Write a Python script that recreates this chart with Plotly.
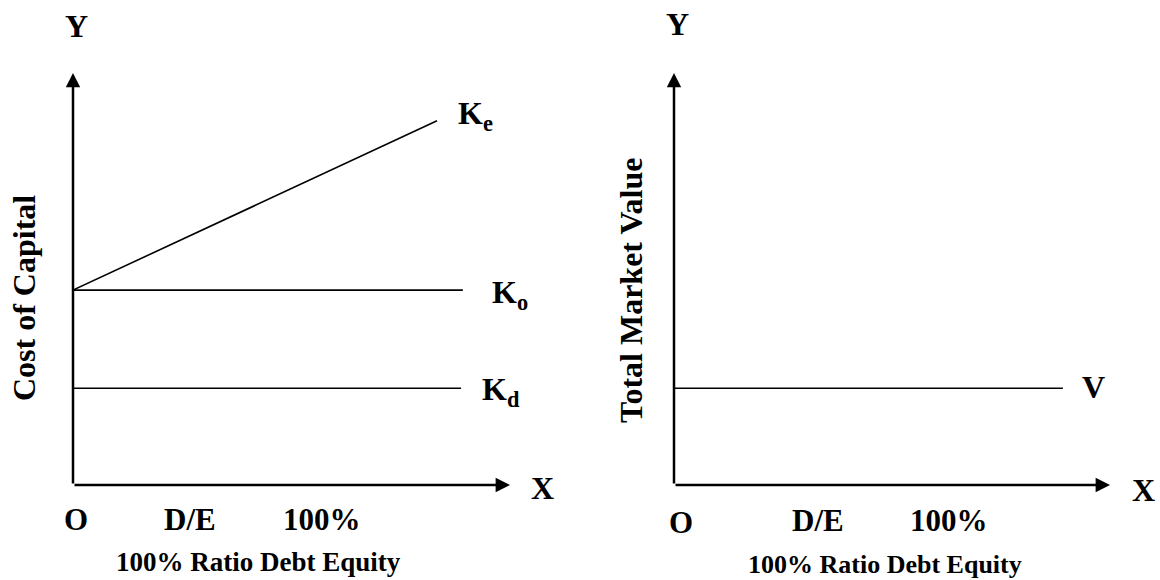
import plotly.graph_objects as go

# ---- data (arbitrary units on a 0-10 scale) ----
ke_x = [0, 8.33]
ke_y = [4.73, 8.84]
ko_x = [0, 8.92]
ko_y = [4.73, 4.73]
kd_x = [0, 8.88]
kd_y = [2.35, 2.35]
v_x = [0, 8.92]
v_y = [2.35, 2.35]
axis_max = 10

W, H = 1160, 580
FONT = "Liberation Serif"

fig = go.Figure()

line_style = dict(color="black", width=1.6)
for xs, ys in [(ke_x, ke_y), (ko_x, ko_y), (kd_x, kd_y)]:
    fig.add_trace(go.Scatter(x=xs, y=ys, mode="lines", line=line_style,
                             xaxis="x", yaxis="y", showlegend=False, hoverinfo="skip"))
fig.add_trace(go.Scatter(x=v_x, y=v_y, mode="lines", line=line_style,
                         xaxis="x2", yaxis="y2", showlegend=False, hoverinfo="skip"))

hidden = dict(range=[0, axis_max], showgrid=False, zeroline=False, showline=False,
              showticklabels=False, ticks="", fixedrange=True)
ydom = [(H - 485) / H, (H - 73) / H]
fig.update_layout(
    width=W, height=H,
    margin=dict(l=0, r=0, t=0, b=0),
    paper_bgcolor="white", plot_bgcolor="white",
    xaxis=dict(domain=[73 / W, 510 / W], **hidden),
    yaxis=dict(domain=ydom, **hidden),
    xaxis2=dict(domain=[674 / W, 1110 / W], anchor="y2", **hidden),
    yaxis2=dict(domain=ydom, anchor="x2", **hidden),
)

anns = []
# axis arrows
for xr, yr in [("x", "y"), ("x2", "y2")]:
    for tip in [(axis_max, 0), (0, axis_max)]:
        anns.append(dict(x=tip[0], y=tip[1], ax=0, ay=0, xref=xr, yref=yr,
                         axref=xr, ayref=yr, showarrow=True, arrowhead=2,
                         arrowsize=1.15, arrowwidth=2.5, arrowcolor="black",
                         standoff=0, startstandoff=0, text=""))


def txt(t, px, py, size, xanchor="center", angle=0):
    anns.append(dict(text="<b>" + t + "</b>", x=px / W, y=1 - py / H,
                     xref="paper", yref="paper", xanchor=xanchor, yanchor="middle",
                     showarrow=False, textangle=angle,
                     font=dict(family=FONT, size=size, color="black")))


# left panel
txt("Y", 76, 26, 32)
txt("X", 542, 488, 32)
txt("K<sub>e</sub>", 456, 116, 32, xanchor="left")
txt("K<sub>o</sub>", 490, 294, 32, xanchor="left")
txt("K<sub>d</sub>", 480, 391, 32, xanchor="left")
txt("O", 76, 519, 31)
txt("D/E", 190, 519, 31)
txt("100%", 322, 519, 31)
txt("100% Ratio Debt Equity", 258, 562, 27)
txt("Cost of Capital", 24, 298, 32, angle=-90)

# right panel
txt("Y", 677, 24, 32)
txt("X", 1143, 490, 32)
txt("V", 1093, 387, 32)
txt("O", 681, 522, 31)
txt("D/E", 818, 520, 31)
txt("100%", 949, 520, 31)
txt("100% Ratio Debt Equity", 885, 564, 26)
txt("Total Market Value", 631, 290, 32, angle=-90)

fig.update_layout(annotations=anns)
fig.write_html("out.html", config={"displayModeBar": False},
               post_script="document.body.style.margin='0';")
